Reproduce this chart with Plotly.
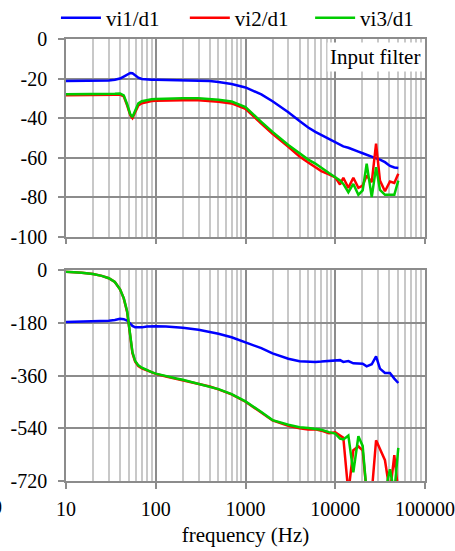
import plotly.graph_objects as go
from plotly.subplots import make_subplots

freq = [10, 15, 20, 25, 30, 35, 40, 44, 48, 52,
        55, 59, 64, 70, 80, 90, 100, 130, 170, 200,
        300, 400, 500, 700, 1000, 1500, 2000, 3000, 4000, 5000,
        6000, 7000, 8500, 10000,
        11300, 12300, 14000, 15900, 18100, 20200, 22400, 25500, 28500, 31500,
        35800, 40700, 45500, 50400]

mag_vi1 = [-21.2, -21.2, -21.2, -21.1, -21.0, -20.6, -20.0, -19.0, -18.0, -17.2,
           -17.3, -18.3, -19.6, -20.2, -20.5, -20.6, -20.6, -20.7, -20.8, -20.9,
           -21.1, -21.3, -21.7, -22.8, -24.5, -28.0, -31.5, -37.0, -41.5, -44.8,
           -47.0, -48.6, -50.8, -52.5,
           -53.5, -54.3, -55.0, -55.8, -57.0, -57.8, -58.7, -59.6, -60.4, -61.0,
           -62.3, -64.2, -65.0, -65.2]

mag_vi2 = [-28.5, -28.5, -28.4, -28.4, -28.3, -28.2, -28.1, -29.0, -33.6, -38.5,
           -40.0, -37.0, -33.6, -32.5, -31.8, -31.4, -31.2, -31.0, -31.0, -31.0,
           -31.0, -31.3, -31.7, -32.6, -35.3, -42.8, -47.9, -54.5, -59.4, -62.5,
           -64.8, -66.8, -68.5, -70.0,
           -73.6, -70.2, -75.3, -70.2, -75.3, -74.1, -69.0, -72.4, -52.9, -71.6,
           -77.0, -72.1, -72.8, -68.2]

mag_vi3 = [-28.0, -28.0, -27.9, -27.9, -27.8, -27.7, -27.6, -28.5, -33.0, -38.0,
           -39.5, -36.0, -32.6, -31.5, -30.8, -30.5, -30.3, -30.1, -30.0, -30.0,
           -30.0, -30.3, -30.7, -31.6, -34.4, -41.9, -47.0, -53.6, -58.0, -61.0,
           -63.0, -65.3, -67.8, -69.9,
           -71.5, -73.3, -77.5, -73.3, -78.8, -76.6, -63.1, -80.0, -64.8, -76.3,
           -78.8, -78.8, -78.8, -71.6]

ph_vi1 = [-177, -176, -175, -174, -172, -170, -166, -167, -172, -182,
          -190, -195, -196, -195, -192, -191, -191, -192, -194, -196,
          -203, -210, -217, -229, -247, -266, -284, -302, -311, -313,
          -313, -312, -311, -310,
          -307, -313, -310, -318, -319, -319, -328, -321, -294, -336,
          -351, -351, -370, -385]

ph_vi2 = [-5, -8, -13, -19, -27, -40, -65, -96, -143, -220,
          -283, -312, -327, -335, -343, -349, -354, -363, -371, -375,
          -389, -397, -407, -424, -449, -485, -513, -531, -540, -544,
          -543, -548, -557, -554,
          -565, -572, -760, -615, -602, -615, -760, -760, -581, -610,
          -649, -760, -632, -760]

ph_vi3 = [-5, -8, -13, -19, -27, -40, -65, -95, -140, -215,
          -280, -310, -325, -333, -342, -348, -353, -362, -370, -374,
          -388, -396, -406, -423, -448, -484, -512, -528, -536, -539,
          -541, -545, -553, -558,
          -575, -578, -565, -690, -567, -600, -760, -760, -760, -760,
          -760, -680, -760, -607]

names = ["vi1/d1", "vi2/d1", "vi3/d1"]
colors = ["#0000FF", "#FF0000", "#00CC00"]
mags = [mag_vi1, mag_vi2, mag_vi3]
phases = [ph_vi1, ph_vi2, ph_vi3]
legend_ids = ["legend", "legend2", "legend3"]
legend_x = [-0.028, 0.331, 0.680]

mag_ticks = [0, -20, -40, -60, -80, -100]
mag_ticktext = ["0", "-20", "-40", "-60", "-80", "-100"]
ph_ticks = [0, -180, -360, -540, -720]
ph_ticktext = ["0", "-180", "-360", "-540", "-720"]
x_ticks = [10, 100, 1000, 10000, 100000]
x_ticktext = ["10", "100", "1000", "10000", "100000"]

FONT = "Liberation Serif"
TICK_SIZE = 20
TEXT_SIZE = 21
MAJOR = "#8c8c8c"
MINOR = "#c8c8c8"

fig = make_subplots(rows=2, cols=1, vertical_spacing=0.0, row_heights=[0.5, 0.5])

for n, c, m, p, lg in zip(names, colors, mags, phases, legend_ids):
    fig.add_trace(go.Scatter(x=freq, y=m, name=n, mode="lines", legend=lg,
                             line=dict(color=c, width=2.5), legendgroup=n), row=1, col=1)
    fig.add_trace(go.Scatter(x=freq, y=p, name=n, mode="lines", showlegend=False,
                             line=dict(color=c, width=2.5), legendgroup=n), row=2, col=1)

xcommon = dict(type="log", range=[1, 5], tickvals=x_ticks, ticktext=x_ticktext,
               showgrid=True, gridcolor=MAJOR, gridwidth=1.5,
               minor=dict(showgrid=True, gridcolor=MINOR, gridwidth=1.5, dtick="D1"),
               ticks="outside", ticklen=6, tickcolor=MAJOR, tickwidth=1.5,
               showline=True, linecolor=MAJOR, linewidth=1.5, mirror=True,
               zeroline=False, automargin=False,
               tickfont=dict(family=FONT, size=TICK_SIZE, color="black"))

fig.update_xaxes(**xcommon)
fig.update_xaxes(showticklabels=False, row=1, col=1)
fig.update_xaxes(title=dict(text="frequency (Hz)", font=dict(family=FONT, size=TEXT_SIZE, color="black"),
                            standoff=9), ticklabelstandoff=3, row=2, col=1)

ycommon = dict(showgrid=True, gridcolor=MAJOR, gridwidth=1.5, zeroline=False,
               ticks="outside", ticklen=6, tickcolor=MAJOR, tickwidth=1.5,
               showline=True, linecolor=MAJOR, linewidth=1.5, mirror=True,
               ticklabelstandoff=7, automargin=False,
               tickfont=dict(family=FONT, size=TICK_SIZE, color="black"))
fig.update_yaxes(**ycommon)
fig.update_yaxes(range=[-100, 0], tickvals=mag_ticks, ticktext=mag_ticktext, row=1, col=1)
fig.update_yaxes(range=[-720, 0], tickvals=ph_ticks, ticktext=ph_ticktext, row=2, col=1)

legend_common = dict(orientation="h", xanchor="left", y=1.0475, yanchor="middle",
                     font=dict(family=FONT, size=TEXT_SIZE, color="black"),
                     bgcolor="rgba(0,0,0,0)", itemwidth=40)

fig.update_layout(
    width=455, height=551,
    margin=dict(l=66, r=30, t=39, b=70, autoexpand=False),
    paper_bgcolor="white", plot_bgcolor="white",
    font=dict(family=FONT, size=TEXT_SIZE, color="black"),
    xaxis=dict(domain=[0, 1]), xaxis2=dict(domain=[0, 1]),
    yaxis=dict(domain=[0.5527, 1.0]),
    yaxis2=dict(domain=[0.0, 0.4767]),
    legend=dict(x=legend_x[0], **legend_common),
    legend2=dict(x=legend_x[1], **legend_common),
    legend3=dict(x=legend_x[2], **legend_common),
    showlegend=True,
)

fig.add_annotation(text="Input filter", xref="x domain", yref="y domain", x=1, y=1,
                   xanchor="right", yanchor="top", xshift=-2, yshift=-3, showarrow=False,
                   bgcolor="white", font=dict(family=FONT, size=TEXT_SIZE, color="black"), borderpad=2)

fig.add_annotation(text="0", xref="paper", yref="paper", x=-0.172, y=-0.058,
                   xanchor="right", yanchor="middle", showarrow=False,
                   font=dict(family=FONT, size=TICK_SIZE, color="black"))

fig.write_html("out.html")
